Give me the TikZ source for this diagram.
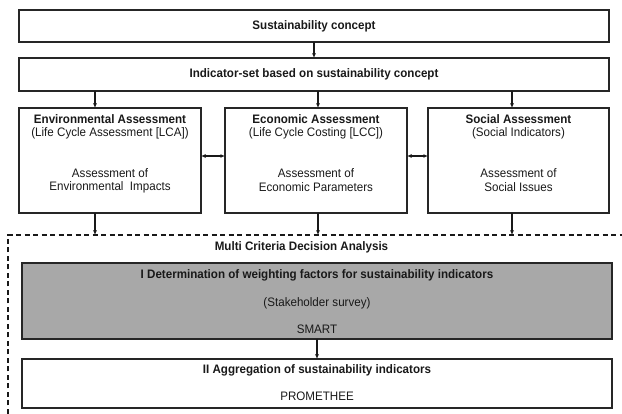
\documentclass[tikz,border=0pt]{standalone}
\usepackage{fontspec}
\setmainfont{Liberation Sans}
\usetikzlibrary{arrows.meta}
\begin{document}
\begin{tikzpicture}[x=1pt,y=-1pt,
  box/.style={draw=black!85,line width=1.4pt,inner sep=0pt,outer sep=0pt},
  graybox/.style={box,fill=black!34},
  txt/.style={font=\fontsize{11.6}{13}\selectfont,inner sep=0pt,text=black!90,yscale=1.06},
  btxt/.style={txt,font=\fontsize{11.6}{13}\selectfont\bfseries},
  arr/.style={draw=black!90,line width=1.1pt,-{Latex[length=4.5pt,width=4pt]}},
  darr/.style={draw=black!90,line width=1.1pt,{Latex[length=4.5pt,width=4pt]}-{Latex[length=4.5pt,width=4pt]}},
  dline/.style={draw=black!90,line width=1.1pt,dash pattern=on 5pt off 3.5pt}]
\useasboundingbox (0,0) rectangle (622,414);
% boxes
\node[box,minimum width=590pt,minimum height=32pt] (b1) at (314,26) {};
\node[box,minimum width=590pt,minimum height=33pt] (b2) at (314,74.5) {};
\node[box,minimum width=182pt,minimum height=105pt] (env) at (110,160.5) {};
\node[box,minimum width=182pt,minimum height=105pt] (eco) at (316,160.5) {};
\node[box,minimum width=181pt,minimum height=105pt] (soc) at (518.5,160.5) {};
\node[graybox,minimum width=590pt,minimum height=76pt] (mc1) at (317,301) {};
\node[box,minimum width=590pt,minimum height=49pt] (mc2) at (317,383.5) {};
% texts
\node[btxt] (t1) at (314,26) {Sustainability\ concept};
\node[btxt] (t2) at (314,74.5) {Indicator-set based on sustainability\ concept};
\node[btxt] (envh) at (110,119) {Environmental Assessment};
\node[txt] (envs) at (110,133) {(Life Cycle Assessment [LCA])};
\node[txt] (enva) at (110,173) {Assessment of};
\node[txt] (envb) at (110,187) {Environmental\ \ Impacts};
\node[btxt] (ecoh) at (316,119) {Economic Assessment};
\node[txt] (ecos) at (316,133) {(Life Cycle Costing [LCC])};
\node[txt] (ecoa) at (316,173) {Assessment of};
\node[txt] (ecob) at (316,187) {Economic Parameters};
\node[btxt] (soch) at (518.5,119) {Social Assessment};
\node[txt] (socs) at (518.5,133) {(Social Indicators)};
\node[txt] (soca) at (518.5,173) {Assessment of};
\node[txt] (socb) at (518.5,187) {Social Issues};
\node[btxt] (mcda) at (301.5,247) {Multi Criteria Decision Analysis};
\node[btxt] (mc1h) at (317,275) {I Determination\ of weighting\ factors for sustainability\ indicators};
\node[txt] (mc1s) at (317,303) {(Stakeholder survey)};
\node[txt] (mc1m) at (317,329) {SMART};
\node[btxt] (mc2h) at (317,370) {II Aggregation\ of sustainability indicators};
\node[txt] (mc2m) at (317,396) {PROMETHEE};
% helper coordinates
\coordinate (xa) at (95,0);
\coordinate (xb) at (318,0);
\coordinate (xc) at (512,0);
\coordinate (ya) at (0,156);
\coordinate (dtop) at (8,235);
\coordinate (dbot) at (8,414);
\coordinate (dright) at (622,235);
% dashed frame
\draw[dline] (dbot) -- (dtop) -- (dright);
% arrows
\draw[arr] (b1) -- (b2);
\draw[arr] (b2.south -| xa) -- (env.north -| xa);
\draw[arr] (b2.south -| xb) -- (eco.north -| xb);
\draw[arr] (b2.south -| xc) -- (soc.north -| xc);
\draw[darr] (env.east |- ya) -- (eco.west |- ya);
\draw[darr] (eco.east |- ya) -- (soc.west |- ya);
\draw[arr] (env.south -| xa) -- (xa |- dtop);
\draw[arr] (eco.south -| xb) -- (xb |- dtop);
\draw[arr] (soc.south -| xc) -- (xc |- dtop);
\draw[arr] (mc1) -- (mc2);
\end{tikzpicture}
\end{document}
